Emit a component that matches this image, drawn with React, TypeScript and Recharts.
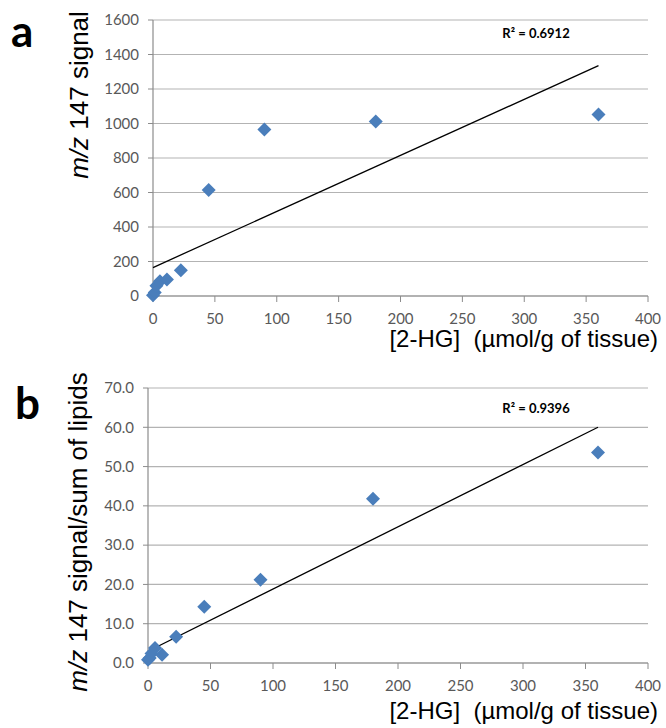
import React from "react";
import { ScatterChart, Scatter, XAxis, YAxis, CartesianGrid } from "recharts";

// 2-HG concentration (µmol/g of tissue), dilution series
const conc = [0, 1.4, 2.8, 5.6, 11.25, 22.5, 45, 90, 180, 360];
// panel a: m/z 147 signal
const signalA = [5, 20, 60, 85, 95, 150, 615, 965, 1012, 1052];
// panel b: m/z 147 signal / sum of lipids
const ratioB = [0.8, 1.3, 2.4, 3.8, 2.1, 6.7, 14.3, 21.2, 41.8, 53.6];

// linear trendlines (endpoints)
const trendX = [0, 360];
const trendA = [165, 1335];
const trendB = [3.0, 60.0];

const xTicks = [0, 50, 100, 150, 200, 250, 300, 350, 400];
const yTicksA = [0, 200, 400, 600, 800, 1000, 1200, 1400, 1600];
const yTicksB = [0, 10, 20, 30, 40, 50, 60, 70];

const BLUE = "#4a7ebb";
const AXIS = "#8c8c8c";
const GRID = "#b3b3b3";
const TICK = "#595959";

const Diamond = (props: any) => {
    const { cx, cy } = props;
    if (cx == null || cy == null) return <g />;
    const r = 7;
    return (
        <polygon
            points={`${cx},${cy - r} ${cx + r},${cy} ${cx},${cy + r} ${cx - r},${cy}`}
            fill={BLUE}
        />
    );
};

const NoDot = () => <g />;

type PanelProps = {
    values: number[];
    trend: number[];
    yTicks: number[];
    yMax: number;
    fmt: (v: number) => string;
    height: number;
    margin: { top: number; right: number; bottom: number; left: number };
};

function Panel({ values, trend, yTicks, yMax, fmt, height, margin }: PanelProps) {
    const points = conc.map((x, i) => ({ x, y: values[i] }));
    const line = trendX.map((x, i) => ({ x, y: trend[i] }));
    const tickStyle = { fill: TICK, fontSize: 15, fontFamily: "Lato" };
    return (
        <ScatterChart width={666} height={height} margin={margin}>
            <CartesianGrid horizontal vertical={false} stroke={GRID} strokeWidth={1.2} />
            <XAxis
                type="number"
                dataKey="x"
                domain={[0, 400]}
                ticks={xTicks}
                height={30}
                tick={tickStyle}
                tickSize={6}
                tickMargin={11}
                axisLine={{ stroke: AXIS, strokeWidth: 1.2 }}
                tickLine={{ stroke: AXIS }}
            />
            <YAxis
                type="number"
                dataKey="y"
                domain={[0, yMax]}
                ticks={yTicks}
                width={50}
                tick={tickStyle}
                tickSize={5}
                tickMargin={9}
                tickFormatter={fmt}
                axisLine={{ stroke: AXIS, strokeWidth: 1.2 }}
                tickLine={{ stroke: AXIS }}
            />
            <Scatter
                data={line}
                fill="#000"
                shape={NoDot}
                line={{ stroke: "#000", strokeWidth: 1.3 }}
                isAnimationActive={false}
            />
            <Scatter data={points} shape={Diamond} isAnimationActive={false} />
        </ScatterChart>
    );
}

const abs = (s: React.CSSProperties): React.CSSProperties => ({
    position: "absolute",
    whiteSpace: "nowrap",
    ...s,
});

export default function App() {
    const sans = "'Liberation Sans', Arial, sans-serif";
    return (
        <div
            style={{
                position: "absolute",
                left: 0,
                top: 0,
                width: 666,
                height: 728,
                background: "#fff",
                overflow: "hidden",
            }}
        >
            <div style={abs({ left: 0, top: 0 })}>
                <Panel
                    values={signalA}
                    trend={trendA}
                    yTicks={yTicksA}
                    yMax={1600}
                    fmt={(v) => String(v)}
                    height={350}
                    margin={{ top: 20, right: 18, bottom: 24, left: 103 }}
                />
            </div>
            <div style={abs({ left: 0, top: 360 })}>
                <Panel
                    values={ratioB}
                    trend={trendB}
                    yTicks={yTicksB}
                    yMax={70}
                    fmt={(v) => v.toFixed(1)}
                    height={368}
                    margin={{ top: 28, right: 18, bottom: 35, left: 98 }}
                />
            </div>

            {/* panel letters */}
            <div style={abs({ left: 11, top: 8, fontFamily: "Lato", fontWeight: 700, fontSize: 44, lineHeight: "44px" })}>a</div>
            <div style={abs({ left: 15, top: 380, fontFamily: "Lato", fontWeight: 700, fontSize: 44, lineHeight: "44px" })}>b</div>

            {/* R² labels */}
            <div style={abs({ left: 536, top: 33, transform: "translate(-50%,-50%)", fontFamily: "Lato", fontWeight: 700, fontSize: 13 })}>
                R² = 0.6912
            </div>
            <div style={abs({ left: 536, top: 408, transform: "translate(-50%,-50%)", fontFamily: "Lato", fontWeight: 700, fontSize: 13 })}>
                R² = 0.9396
            </div>

            {/* y-axis titles */}
            <div style={abs({ left: 79, top: 95, transform: "translate(-50%,-50%) rotate(-90deg)", fontFamily: sans, fontSize: 26, lineHeight: "26px" })}>
                <i>m/z</i> 147 signal
            </div>
            <div style={abs({ left: 78, top: 532, transform: "translate(-50%,-50%) rotate(-90deg)", fontFamily: sans, fontSize: 26, lineHeight: "26px" })}>
                <i>m/z</i> 147 signal/sum of lipids
            </div>

            {/* x-axis titles */}
            <div style={abs({ right: 8, top: 339, transform: "translateY(-50%)", fontFamily: sans, fontSize: 24, lineHeight: "24px" })}>
                [2-HG]&nbsp; (µmol/g of tissue)
            </div>
            <div style={abs({ right: 8, top: 711, transform: "translateY(-50%)", fontFamily: sans, fontSize: 24, lineHeight: "24px" })}>
                [2-HG]&nbsp; (µmol/g of tissue)
            </div>
        </div>
    );
}
